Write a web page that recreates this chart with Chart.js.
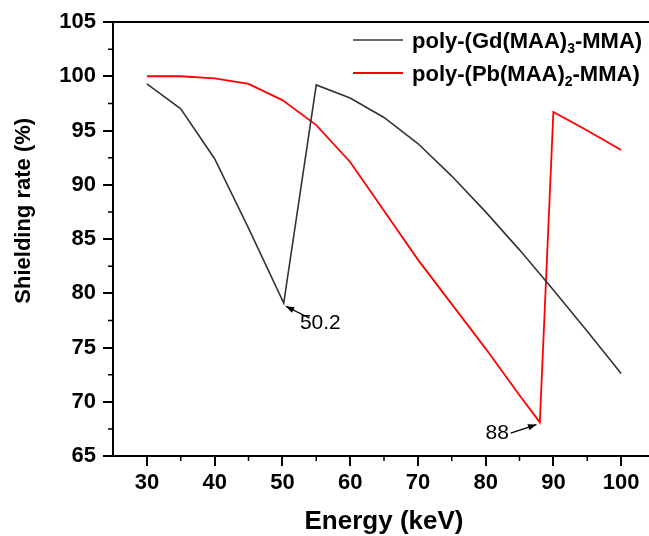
<!DOCTYPE html>
<html>
<head>
<meta charset="utf-8">
<script src="https://cdn.jsdelivr.net/npm/chart.js@4.4.0/dist/chart.umd.min.js"></script>
<style>
html, body { margin: 0; padding: 0; background: #fff; overflow: hidden; }
#wrap { width: 680px; height: 536px; }
</style>
</head>
<body>
<div id="wrap"><canvas id="shieldChart" width="680" height="536"></canvas></div>
<script>
// valores
const energyGd = [30, 35, 40, 45, 50.2, 55, 60, 65, 70, 75, 80, 85, 90, 95, 100];
const rateGd = [99.3, 97.0, 92.4, 86.0, 79.1, 99.2, 98.0, 96.2, 93.8, 90.8, 87.5, 84.0, 80.3, 76.5, 72.6];
const energyPb = [30, 35, 40, 45, 50, 55, 60, 65, 70, 75, 80, 85, 88, 90, 95, 100];
const ratePb = [100.0, 100.0, 99.8, 99.3, 97.8, 95.5, 92.1, 87.6, 83.1, 79.0, 74.9, 70.6, 68.1, 96.7, 95.0, 93.2];
const xTicks = [30, 40, 50, 60, 70, 80, 90, 100];
const yTicks = [65, 70, 75, 80, 85, 90, 95, 100, 105];
const seriesNames = ['poly-(Gd(MAA)_3-MMA)', 'poly-(Pb(MAA)_2-MMA)'];
const seriesColors = ['#333333', '#ff0000'];
const yTitle = 'Shielding rate (%)';

const FONT = "'Liberation Sans', Arial, sans-serif";

// anotaciones con flecha (coordenadas en unidades de datos)
const notes = [
    { text: '50.2', at: [55.6, 77.2], from: [54.0, 77.7], to: [50.5, 78.8] },
    { text: '88', at: [81.7, 67.1], from: [83.7, 67.1], to: [87.5, 67.9] }
];

const extras = {
    id: 'extras',
    afterDatasetsDraw(chart) {
        const { ctx, chartArea: a, scales: { x, y } } = chart;
        ctx.save();
        // marco
        ctx.strokeStyle = '#000';
        ctx.lineWidth = 2;
        ctx.strokeRect(a.left, a.top, a.right - a.left, a.bottom - a.top);
        // ticks menores
        ctx.lineWidth = 1.5;
        ctx.beginPath();
        for (let v = 35; v < 105; v += 10) {
            const px = x.getPixelForValue(v);
            ctx.moveTo(px, a.bottom);
            ctx.lineTo(px, a.bottom + 5);
        }
        for (let v = 67.5; v < 105; v += 5) {
            const py = y.getPixelForValue(v);
            ctx.moveTo(a.left, py);
            ctx.lineTo(a.left - 5, py);
        }
        ctx.stroke();

        // titulo del eje y (algo por encima del centro, como en la figura)
        ctx.save();
        ctx.translate(24, y.getPixelForValue(87.6));
        ctx.rotate(-Math.PI / 2);
        ctx.font = 'bold 22px ' + FONT;
        ctx.fillStyle = '#000';
        ctx.textAlign = 'center';
        ctx.textBaseline = 'middle';
        ctx.fillText(yTitle, 0, 0);
        ctx.restore();

        // anotaciones
        ctx.font = '21px ' + FONT;
        ctx.fillStyle = '#000';
        ctx.textAlign = 'center';
        ctx.textBaseline = 'middle';
        notes.forEach(n => {
            ctx.fillText(n.text, x.getPixelForValue(n.at[0]), y.getPixelForValue(n.at[1]));
            const x0 = x.getPixelForValue(n.from[0]), y0 = y.getPixelForValue(n.from[1]);
            const x1 = x.getPixelForValue(n.to[0]), y1 = y.getPixelForValue(n.to[1]);
            ctx.lineWidth = 1.3;
            ctx.beginPath();
            ctx.moveTo(x0, y0);
            ctx.lineTo(x1, y1);
            ctx.stroke();
            const ang = Math.atan2(y1 - y0, x1 - x0);
            ctx.beginPath();
            ctx.moveTo(x1, y1);
            ctx.lineTo(x1 - 9 * Math.cos(ang - 0.35), y1 - 9 * Math.sin(ang - 0.35));
            ctx.lineTo(x1 - 9 * Math.cos(ang + 0.35), y1 - 9 * Math.sin(ang + 0.35));
            ctx.closePath();
            ctx.fill();
        });

        // leyenda con subindices
        chart.data.datasets.forEach((ds, i) => {
            const ly = 40 + i * 33;
            ctx.strokeStyle = ds.borderColor;
            ctx.lineWidth = ds.borderWidth;
            ctx.beginPath();
            ctx.moveTo(353, ly);
            ctx.lineTo(403, ly);
            ctx.stroke();
            const parts = ds.label.split('_');
            let tx = 412;
            ctx.textAlign = 'left';
            ctx.textBaseline = 'alphabetic';
            ctx.font = 'bold 22px ' + FONT;
            ctx.fillText(parts[0], tx, ly + 8);
            tx += ctx.measureText(parts[0]).width;
            ctx.font = 'bold 14px ' + FONT;
            ctx.fillText(parts[1][0], tx, ly + 13);
            tx += ctx.measureText(parts[1][0]).width;
            ctx.font = 'bold 22px ' + FONT;
            ctx.fillText(parts[1].slice(1), tx, ly + 8);
        });
        ctx.restore();
    }
};

const shieldChart = new Chart(document.getElementById('shieldChart'), {
    type: 'line',
    data: {
        datasets: [{
            label: seriesNames[0],
            data: energyGd.map((e, i) => ({ x: e, y: rateGd[i] })),
            borderColor: seriesColors[0],
            borderWidth: 1.6,
            pointRadius: 0,
            tension: 0
        }, {
            label: seriesNames[1],
            data: energyPb.map((e, i) => ({ x: e, y: ratePb[i] })),
            borderColor: seriesColors[1],
            borderWidth: 1.8,
            pointRadius: 0,
            tension: 0
        }]
    },
    options: {
        responsive: false,
        animation: false,
        layout: { padding: { top: 22, right: 25, left: 0, bottom: 0 } },
        plugins: {
            legend: { display: false },
            tooltip: { enabled: false }
        },
        scales: {
            x: {
                type: 'linear',
                min: 25,
                max: 105,
                afterBuildTicks: s => { s.ticks = xTicks.map(v => ({ value: v })); },
                afterFit: s => { s.height = 80; },
                ticks: {
                    color: '#000',
                    padding: 4,
                    maxRotation: 0,
                    font: { family: FONT, size: 22, weight: 'bold' }
                },
                grid: { drawOnChartArea: false, tickLength: 10, color: '#000', lineWidth: 2 },
                border: { display: false },
                title: {
                    display: true,
                    text: 'Energy (keV)',
                    color: '#000',
                    padding: { top: 0, bottom: 1 },
                    font: { family: FONT, size: 26, weight: 'bold', lineHeight: 1 }
                }
            },
            y: {
                min: 65,
                max: 105,
                afterBuildTicks: s => { s.ticks = yTicks.map(v => ({ value: v })); },
                afterFit: s => { s.width = 113; },
                ticks: {
                    color: '#000',
                    padding: 7,
                    font: { family: FONT, size: 22, weight: 'bold' }
                },
                grid: { drawOnChartArea: false, tickLength: 10, color: '#000', lineWidth: 2 },
                border: { display: false },
                title: { display: false }
            }
        }
    },
    plugins: [extras]
});
</script>
</body>
</html>
